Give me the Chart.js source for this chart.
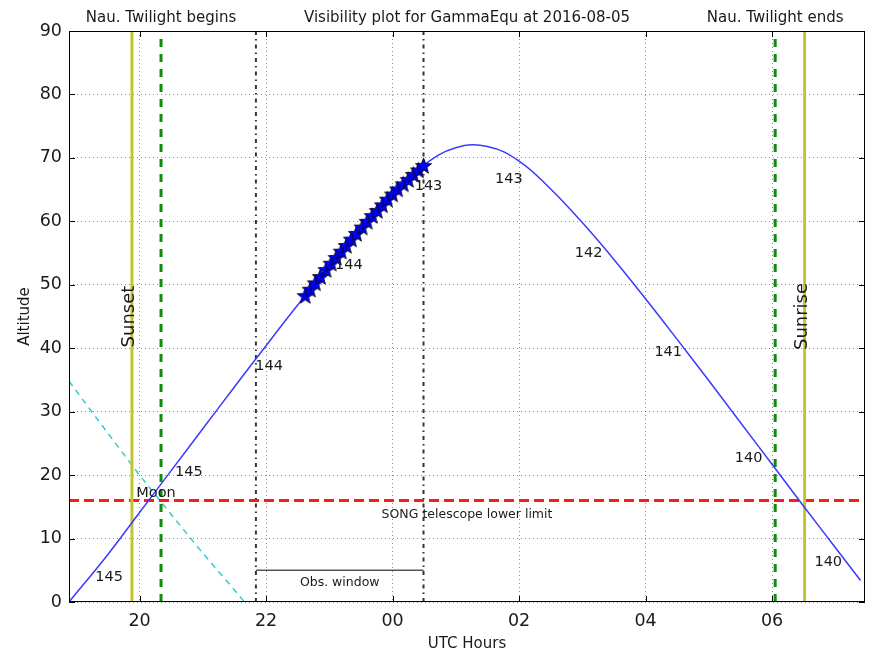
<!DOCTYPE html>
<html lang="en">
<head>
<meta charset="UTF-8">
<title>Visibility plot for GammaEqu at 2016-08-05</title>
<script src="https://cdn.jsdelivr.net/npm/chart.js"></script>
<style>
  html, body { margin: 0; padding: 0; background: #fff; }
  #plot { display: block; }
</style>
</head>
<body>
<canvas id="plot" width="874" height="652"></canvas>
<script>
// Hours run past midnight as 24+, so 00 UTC is 24 and 06 UTC is 30
const xMin = 18.885, xMax = 31.47;
const xTicks = [20, 22, 24, 26, 28, 30];
const xTickLabels = ['20', '22', '00', '02', '04', '06'];
const yTicks = [0, 10, 20, 30, 40, 50, 60, 70, 80, 90];

// target altitude through the night
const curveHours = [18.885, 19.5, 20.0, 20.5, 21.0, 21.5, 22.0, 22.5, 23.0, 23.5, 24.0, 24.5,
  25.0, 25.5, 26.0, 26.5, 27.0, 27.5, 28.0, 28.5, 29.0, 29.5, 30.0, 30.5, 31.0, 31.4];
const curveAlt = [0.0, 7.5, 14.1, 20.7, 27.3, 33.9, 40.4, 46.8, 53.0, 58.9, 64.3, 68.9,
  71.6, 71.8, 69.5, 65.1, 59.8, 54.0, 47.8, 41.4, 34.9, 28.3, 21.7, 15.1, 8.6, 3.4];

// planned exposures inside the observing window
const obsHours = [22.62, 22.70, 22.78, 22.86, 22.95, 23.03, 23.11, 23.19, 23.27, 23.35, 23.43, 23.52,
  23.60, 23.68, 23.76, 23.84, 23.92, 24.00, 24.08, 24.17, 24.25, 24.33, 24.41, 24.49];
const obsAlt = [48.3, 49.3, 50.3, 51.3, 52.4, 53.4, 54.3, 55.3, 56.2, 57.2, 58.1, 59.1,
  60.0, 60.9, 61.7, 62.6, 63.5, 64.3, 65.1, 65.9, 66.6, 67.4, 68.1, 68.8];

// moon altitude
const moonHours = [18.885, 19.5, 20.0, 20.5, 21.0, 21.5, 21.66];
const moonAlt = [34.8, 26.6, 20.0, 13.8, 7.7, 1.9, 0.0];

// moon distance (deg) written along the track
const distLabels = ['145', '145', '144', '144', '143', '143', '142', '141', '140', '140'];
const distHours = [19.30, 20.56, 21.83, 23.09, 24.35, 25.62, 26.88, 28.14, 29.41, 30.67];
const distAlt = [3.35, 19.9, 36.6, 52.5, 64.9, 66.05, 54.35, 38.8, 22.1, 5.6];

const sunsetHour = 19.88, sunriseHour = 30.515;
const twilightBegin = 20.34, twilightEnd = 30.05;
const obsStart = 21.84, obsEnd = 24.49;
const songLimit = 16;
const obsWindowAlt = 5;

const toPts = (xs, ys) => xs.map((v, i) => ({ x: v, y: ys[i] }));
const vline = h => [{ x: h, y: 0 }, { x: h, y: 90 }];

// filled five point star marker
function makeStar(size) {
  const c = document.createElement('canvas');
  c.width = size; c.height = size;
  const g = c.getContext('2d');
  const R = size / 2 - 1, r = R * 0.42, cx = size / 2, cy = size / 2 + 0.8;
  g.beginPath();
  for (let i = 0; i < 10; i++) {
    const rad = i % 2 ? r : R;
    const a = -Math.PI / 2 + i * Math.PI / 5;
    g.lineTo(cx + rad * Math.cos(a), cy + rad * Math.sin(a));
  }
  g.closePath();
  g.fillStyle = '#0000ff';
  g.fill();
  g.strokeStyle = '#000';
  g.lineWidth = 0.8;
  g.stroke();
  return c;
}

const FONT = '"DejaVu Sans", sans-serif';

const skyAnnotations = {
  id: 'skyAnnotations',
  afterDraw(chart) {
    const { ctx, chartArea: a, scales: { x, y } } = chart;
    ctx.save();

    // axes frame with inward ticks on all sides
    ctx.strokeStyle = '#000';
    ctx.lineWidth = 1;
    ctx.strokeRect(a.left + 0.5, a.top + 0.5, a.right - a.left - 1, a.bottom - a.top - 1);
    ctx.beginPath();
    xTicks.forEach(v => {
      const px = Math.round(x.getPixelForValue(v)) + 0.5;
      ctx.moveTo(px, a.bottom); ctx.lineTo(px, a.bottom - 6);
      ctx.moveTo(px, a.top); ctx.lineTo(px, a.top + 6);
    });
    yTicks.forEach(v => {
      const py = Math.round(y.getPixelForValue(v)) + 0.5;
      ctx.moveTo(a.left, py); ctx.lineTo(a.left + 6, py);
      ctx.moveTo(a.right, py); ctx.lineTo(a.right - 6, py);
    });
    ctx.stroke();

    ctx.fillStyle = '#1a1a1a';
    ctx.textBaseline = 'alphabetic';

    // headings above the frame
    ctx.font = '15px ' + FONT;
    ctx.textAlign = 'center';
    ctx.fillText('Nau. Twilight begins', x.getPixelForValue(twilightBegin), 22);
    ctx.fillText('Visibility plot for GammaEqu at 2016-08-05', (a.left + a.right) / 2, 22);
    ctx.fillText('Nau. Twilight ends', x.getPixelForValue(twilightEnd), 22);

    // axis titles
    ctx.fillText('UTC Hours', (a.left + a.right) / 2, 648);
    ctx.save();
    ctx.translate(29, (a.top + a.bottom) / 2);
    ctx.rotate(-Math.PI / 2);
    ctx.fillText('Altitude', 0, 0);
    ctx.restore();

    // sunset / sunrise markers
    ctx.font = '18px ' + FONT;
    [[sunsetHour, 'Sunset'], [sunriseHour, 'Sunrise']].forEach(([h, t]) => {
      ctx.save();
      ctx.translate(x.getPixelForValue(h) + 2, y.getPixelForValue(45));
      ctx.rotate(-Math.PI / 2);
      ctx.fillText(t, 0, 0);
      ctx.restore();
    });

    // small captions
    ctx.font = '12.5px ' + FONT;
    ctx.fillText('SONG telescope lower limit', x.getPixelForValue((xMin + xMax) / 2), y.getPixelForValue(songLimit - 2.7));
    ctx.fillText('Obs. window', x.getPixelForValue((obsStart + obsEnd) / 2), y.getPixelForValue(obsWindowAlt - 2.5));

    // moon label and distances
    ctx.font = '14.5px ' + FONT;
    ctx.textAlign = 'left';
    ctx.fillText('Moon', x.getPixelForValue(19.95), y.getPixelForValue(16.6));
    distLabels.forEach((t, i) => {
      ctx.fillText(t, x.getPixelForValue(distHours[i]), y.getPixelForValue(distAlt[i]));
    });

    ctx.restore();
  }
};

const lineDs = (data, color, width, dash, extra) => Object.assign({
  data, showLine: true, borderColor: color, borderWidth: width, borderDash: dash || [],
  pointRadius: 0, pointHoverRadius: 0, fill: false
}, extra || {});

new Chart(document.getElementById('plot'), {
  type: 'scatter',
  data: {
    datasets: [
      { data: toPts(obsHours, obsAlt), pointStyle: makeStar(19), pointRadius: 8, showLine: false },
      lineDs(toPts(curveHours, curveAlt), '#3a3aff', 1.5, [], { tension: 0.4 }),
      lineDs(vline(twilightBegin), '#108a10', 3, [8, 7]),
      lineDs(vline(twilightEnd), '#108a10', 3, [8, 7]),
      lineDs(vline(sunsetHour), '#c4c432', 3),
      lineDs(vline(sunriseHour), '#c4c432', 3),
      lineDs([{ x: xMin, y: songLimit }, { x: xMax, y: songLimit }], '#ff1a1a', 3, [10, 5]),
      lineDs(toPts(moonHours, moonAlt), '#33cccc', 1.5, [6, 5]),
      lineDs(vline(obsStart), '#333', 2, [4, 4, 1.5, 4]),
      lineDs(vline(obsEnd), '#333', 2, [4, 4, 1.5, 4]),
      lineDs([{ x: obsStart, y: obsWindowAlt }, { x: obsEnd, y: obsWindowAlt }], '#555', 1.5)
    ]
  },
  options: {
    responsive: false,
    animation: false,
    layout: { padding: { top: 31, right: 6, left: 0, bottom: 0 } },
    plugins: { legend: { display: false }, tooltip: { enabled: false } },
    scales: {
      x: {
        type: 'linear', min: xMin, max: xMax,
        afterBuildTicks: s => { s.ticks = xTicks.map(v => ({ value: v })); },
        afterFit: s => { s.height = 50; },
        ticks: {
          callback: v => xTickLabels[xTicks.indexOf(v)],
          font: { family: FONT, size: 17.5 }, color: '#1a1a1a', padding: 9, maxRotation: 0
        },
        grid: { color: 'rgba(0,0,0,0.45)', drawTicks: false },
        border: { display: false, dash: [1, 3] }
      },
      y: {
        min: 0, max: 90,
        afterBuildTicks: s => { s.ticks = yTicks.map(v => ({ value: v })); },
        afterFit: s => { s.width = 69; },
        ticks: { font: { family: FONT, size: 17.5 }, color: '#1a1a1a', padding: 7 },
        grid: { color: 'rgba(0,0,0,0.45)', drawTicks: false },
        border: { display: false, dash: [1, 3] }
      }
    }
  },
  plugins: [skyAnnotations]
});
</script>
</body>
</html>
